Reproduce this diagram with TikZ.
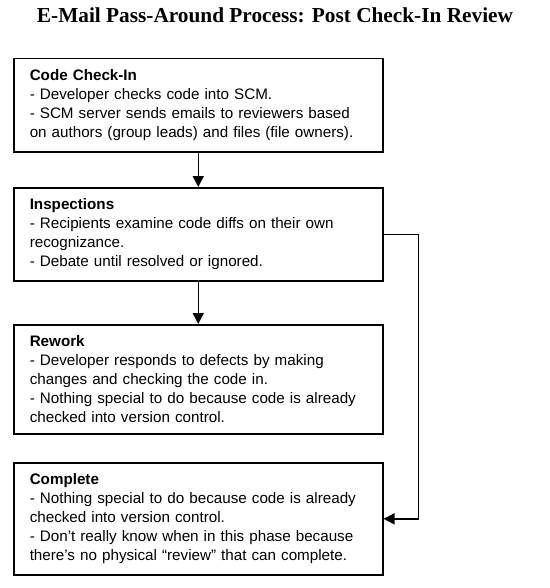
\documentclass[tikz,border=0pt]{standalone}
\usepackage{fontspec}
\setmainfont{Liberation Sans}
\newfontfamily\titlefont{Liberation Serif}
\usetikzlibrary{arrows.meta}

\begin{document}
\begin{tikzpicture}[x=1bp,y=-1bp,
  phase/.style={draw,line width=1.5bp,anchor=north west,text width=337bp,
    inner xsep=16bp,inner ysep=11bp,align=left,
    font=\fontsize{15.2bp}{19bp}\selectfont},
  flow/.style={line width=1.5bp,-{Triangle[length=11bp,width=11bp]}}]
\useasboundingbox (0,0) rectangle (550,588);

\draw (275,15) node[font=\titlefont\bfseries\fontsize{21.3bp}{24bp}\selectfont] (title)
  {E-Mail Pass-Around Process: Post Check-In Review};

\draw (13,58) node[phase] (checkin) {\textbf{Code Check-In}\\
- Developer checks code into SCM.\\
- SCM server sends emails to reviewers based\\
on authors (group leads) and files (file owners).};
\draw (13,187) node[phase] (inspect) {\textbf{Inspections}\\
- Recipients examine code diffs on their own\\
recognizance.\\
- Debate until resolved or ignored.};
\draw (13,324) node[phase] (rework) {\textbf{Rework}\\
- Developer responds to defects by making\\
changes and checking the code in.\\
- Nothing special to do because code is already\\
checked into version control.};
\draw (13,462) node[phase] (complete) {\textbf{Complete}\\
- Nothing special to do because code is already\\
checked into version control.\\
- Don't really know when in this phase because\\
there's no physical ``review'' that can complete.};

\draw[flow] (checkin.south) -- (inspect.north);
\draw[flow] (inspect.south) -- (rework.north);
\draw[flow] (inspect.east) -- ++(35,0) |- (complete.east);
\end{tikzpicture}
\end{document}
